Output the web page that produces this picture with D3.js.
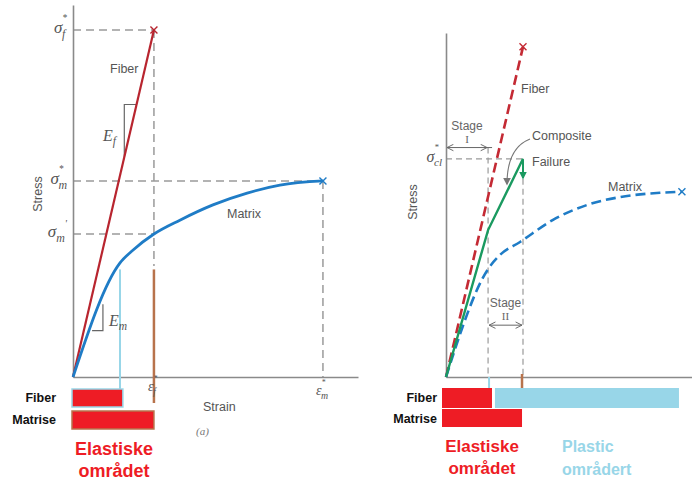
<!DOCTYPE html>
<html><head><meta charset="utf-8">
<script src="https://cdn.jsdelivr.net/npm/d3@7"></script>
<style>body{margin:0;background:#fff}svg{display:block}</style>
</head><body>
<svg id="c" width="692" height="481"></svg>
<script>
// ---- Panel (a): fibre and matrix tested on their own (strain, stress; arbitrary units)
const fiberA  = [[0, 0], [2.84, 100]];
const matrixA = [[0, 0], [1.65, 32.9], [2.11, 36.6], [2.84, 41.2], [3.75, 45.2],
                 [4.91, 49.6], [6.11, 53.0], [7.26, 55.3], [8.77, 56.5]];
const stressMarksA = [{base: "σ", sub: "f", sup: "*", v: 100},
                      {base: "σ", sub: "m", sup: "*", v: 56.5},
                      {base: "σ", sub: "m", sup: "'", v: 41.2}];
const strainMarksA = [{base: "ε", sub: "f", sup: "*", v: 2.84},
                      {base: "ε", sub: "m", sup: "*", v: 8.77}];
const barsA = [{name: "Fiber", end: 1.75}, {name: "Matrise", end: 2.84}];

// ---- Panel (b): fibre, matrix and composite
const fiberB     = [[0, 0], [3.13, 100]];
const compositeB = [[0, 0], [1.71, 44.5], [3.13, 66.1]];
const matrixB    = [[0, 0], [1.71, 32.7], [2.20, 37.0], [3.01, 40.9], [4.35, 47.6],
                    [5.73, 52.1], [7.07, 54.5], [8.70, 55.8], [9.59, 56.1]];
const failureDropB = 60.3;
const stagesB = [{name: "I", from: 0, to: 1.71}, {name: "II", from: 1.71, to: 3.13}];
const barsB = [{name: "Fiber", start: 0, end: 1.87, kind: "elastic"},
               {name: "Fiber", start: 1.99, end: 9.47, kind: "plastic"},
               {name: "Matrise", start: 0, end: 3.09, kind: "elastic"}];

const svg = d3.select("#c");
const C = {
  axis: "#8a8a8a", dash: "#9a9a9a", text: "#555", fiber: "#b8252f", fiberB: "#c42a34",
  matrix: "#1f7cc6", comp: "#1a9a60", bar: "#ee1c25", light: "#98d6e8", brown: "#b8734c"
};
const SANS = "'Liberation Sans', Arial, sans-serif";
const SERIF = "'Liberation Serif', 'Times New Roman', serif";

const defs = svg.append("defs");
defs.append("marker").attr("id", "openArrow").attr("viewBox", "0 0 10 10")
  .attr("refX", 9).attr("refY", 5).attr("markerWidth", 8).attr("markerHeight", 8)
  .attr("markerUnits", "userSpaceOnUse").attr("orient", "auto-start-reverse")
  .append("path").attr("d", "M1,1 L9,5 L1,9").attr("fill", "none").attr("stroke", "#666").attr("stroke-width", 1.2);
defs.append("marker").attr("id", "greenArrow").attr("viewBox", "0 0 10 10")
  .attr("refX", 8).attr("refY", 5).attr("markerWidth", 8).attr("markerHeight", 8)
  .attr("markerUnits", "userSpaceOnUse").attr("orient", "auto")
  .append("path").attr("d", "M0,0 L10,5 L0,10 Z").attr("fill", C.comp);
defs.append("marker").attr("id", "grayArrow").attr("viewBox", "0 0 10 10")
  .attr("refX", 8).attr("refY", 5).attr("markerWidth", 8).attr("markerHeight", 8)
  .attr("markerUnits", "userSpaceOnUse").attr("orient", "auto")
  .append("path").attr("d", "M0,0 L10,5 L0,10 Z").attr("fill", "#777");

// symbol with a subscript and an optional superscript (star stacked above, prime after)
function mathLabel(g, x, y, m, size, anchor) {
  const t = g.append("text").attr("x", x).attr("y", y).attr("text-anchor", anchor || "start")
    .attr("font-family", SERIF).attr("font-style", "italic").attr("font-size", size).attr("fill", C.text);
  t.append("tspan").text(m.base);
  if (m.sup === "*") {
    t.append("tspan").attr("font-size", size * 0.55).attr("dy", -size * 0.72).text(m.sup);
    t.append("tspan").attr("font-size", size * 0.7).attr("dx", -size * 0.3).attr("dy", size * 1.0).text(m.sub);
  } else if (m.sup) {
    t.append("tspan").attr("font-size", size * 0.7).attr("dy", size * 0.28).text(m.sub);
    t.append("tspan").attr("font-size", size * 0.6).attr("dy", -size * 0.85).text(m.sup);
  } else {
    t.append("tspan").attr("font-size", size * 0.72).attr("dy", size * 0.22).text(m.sub);
  }
  return t;
}
function cross(g, x, y, color) {
  g.append("path").attr("d", `M${x-3.5},${y-3.5}L${x+3.5},${y+3.5}M${x-3.5},${y+3.5}L${x+3.5},${y-3.5}`)
    .attr("stroke", color).attr("stroke-width", 1.4);
}
function plainText(g, x, y, s, size, anchor, color) {
  return g.append("text").attr("x", x).attr("y", y).attr("text-anchor", anchor || "start")
    .attr("font-family", SANS).attr("font-size", size).attr("fill", color || C.text).text(s);
}
function styleAxis(sel) {
  sel.select(".domain").attr("stroke", C.axis).attr("stroke-width", 1.6);
}

// ================= Panel (a) =================
const xA = d3.scaleLinear().domain([0, 10]).range([73, 358]);
const yA = d3.scaleLinear().domain([0, 107.2]).range([377, 5]);
const gA = svg.append("g");
const lineA = d3.line().x(d => xA(d[0])).y(d => yA(d[1]));

// dashed guide lines
const fEndA = fiberA[1], mEndA = matrixA[matrixA.length - 1];
const guidesA = [
  [[0, fEndA[1]], [fEndA[0], fEndA[1]]],
  [[fEndA[0], fEndA[1]], [fEndA[0], 32]],
  [[0, mEndA[1]], [mEndA[0], mEndA[1]]],
  [[mEndA[0], mEndA[1]], [mEndA[0], 0]],
  [[0, stressMarksA[2].v], [strainMarksA[0].v, stressMarksA[2].v]]
];
guidesA.forEach(p => gA.append("path").attr("d", lineA(p)).attr("fill", "none")
  .attr("stroke", C.dash).attr("stroke-width", 1.5).attr("stroke-dasharray", "8,5"));

gA.append("g").attr("transform", `translate(${xA(0)},0)`)
  .call(d3.axisLeft(yA).tickValues([]).tickSizeOuter(0)).call(styleAxis);
gA.append("g").attr("transform", `translate(0,${yA(0)})`)
  .call(d3.axisBottom(xA).tickValues([]).tickSizeOuter(0)).call(styleAxis);

// markers below the curves
gA.append("line").attr("x1", xA(matrixA[1][0])).attr("x2", xA(matrixA[1][0]))
  .attr("y1", yA(31)).attr("y2", 389).attr("stroke", C.light).attr("stroke-width", 2);
gA.append("line").attr("x1", xA(fEndA[0])).attr("x2", xA(fEndA[0]))
  .attr("y1", yA(31)).attr("y2", 403).attr("stroke", C.brown).attr("stroke-width", 2.5);

// slope triangles
const fSlope = fiberA[1][1] / fiberA[1][0];
const eF1 = 1.8, eF2 = 2.23;
gA.append("path").attr("d", lineA([[eF1, fSlope * eF1], [eF1, fSlope * eF2], [eF2, fSlope * eF2]]))
  .attr("fill", "none").attr("stroke", "#666").attr("stroke-width", 1.2);
const mSlope = matrixA[1][1] / matrixA[1][0];
const eM1 = 0.67, eM2 = 1.05;
gA.append("path").attr("d", lineA([[eM1, mSlope * eM1], [eM2, mSlope * eM1], [eM2, mSlope * eM2]]))
  .attr("fill", "none").attr("stroke", "#666").attr("stroke-width", 1.2);

// curves
gA.append("path").attr("d", lineA(fiberA)).attr("fill", "none").attr("stroke", C.fiber).attr("stroke-width", 2.2);
gA.append("path").attr("d", lineA.curve(d3.curveMonotoneX)(matrixA)).attr("fill", "none")
  .attr("stroke", C.matrix).attr("stroke-width", 2.8);
lineA.curve(d3.curveLinear);
cross(gA, xA(fEndA[0]), yA(fEndA[1]), C.fiber);
cross(gA, xA(mEndA[0]), yA(mEndA[1]), C.matrix);

// labels
stressMarksA.forEach(m => mathLabel(gA, 67, yA(m.v) + 3, m, 17, "end"));
mathLabel(gA, xA(strainMarksA[0].v) - 6, 391, strainMarksA[0], 14, "start");
mathLabel(gA, xA(strainMarksA[1].v) - 7, 395, strainMarksA[1], 14, "start");
plainText(gA, 110, 73, "Fiber", 12.5);
plainText(gA, 227, 218, "Matrix", 12.5);
plainText(gA, 203, 411, "Strain", 12.5);
gA.append("text").attr("x", 196).attr("y", 435).attr("font-family", SERIF).attr("font-style", "italic")
  .attr("font-size", 11).attr("fill", "#777").text("(a)");
plainText(gA, 0, 0, "Stress", 12.5, "middle").attr("transform", "translate(42,194) rotate(-90)");
mathLabel(gA, 103, 141, {base: "E", sub: "f"}, 16, "start");
mathLabel(gA, 109, 326, {base: "E", sub: "m"}, 16, "start");

// region bars
barsA.forEach((b, i) => {
  const y0 = i === 0 ? 389 : 411;
  gA.append("rect").attr("x", xA(0) - 1).attr("y", y0).attr("width", xA(b.end) - xA(0) + 1).attr("height", 18)
    .attr("fill", C.bar).attr("stroke", i === 0 ? C.light : C.brown).attr("stroke-width", 1.5);
  gA.append("text").attr("x", 56).attr("y", y0 + 13).attr("text-anchor", "end")
    .attr("font-family", SANS).attr("font-weight", "bold").attr("font-size", 12.5).attr("fill", "#111").text(b.name);
});
gA.append("text").attr("text-anchor", "middle").attr("font-family", SANS).attr("font-weight", "bold")
  .attr("font-size", 18).attr("fill", C.bar)
  .selectAll("tspan").data(["Elastiske", "området"]).join("tspan")
  .attr("x", 114).attr("y", (d, i) => 455 + i * 22).text(d => d);

// ================= Panel (b) =================
const xB = d3.scaleLinear().domain([0, 10]).range([446, 692]);
const yB = d3.scaleLinear().domain([0, 104.2]).range([377, 33]);
const gB = svg.append("g");
const lineB = d3.line().x(d => xB(d[0])).y(d => yB(d[1]));

const fail = compositeB[compositeB.length - 1];
const knee = compositeB[1];
const guidesB = [
  [[0, fail[1]], [fail[0], fail[1]]],
  [[fail[0], fail[1]], [fail[0], 0]],
  [[knee[0], 69.5], [knee[0], 0]]
];
guidesB.forEach(p => gB.append("path").attr("d", lineB(p)).attr("fill", "none")
  .attr("stroke", C.dash).attr("stroke-width", 1.2).attr("stroke-dasharray", "6,4"));

gB.append("g").attr("transform", `translate(${xB(0)},0)`)
  .call(d3.axisLeft(yB).tickValues([]).tickSizeOuter(0)).call(styleAxis);
gB.append("g").attr("transform", `translate(0,${yB(0)})`)
  .call(d3.axisBottom(xB).tickValues([]).tickSizeOuter(0)).call(styleAxis);

// stage arrows
const stageY = [yB(69.5), yB(15.7)];
stagesB.forEach((s, i) => {
  gB.append("line").attr("x1", xB(s.from) + 1).attr("x2", xB(s.to) - 1)
    .attr("y1", stageY[i]).attr("y2", stageY[i]).attr("stroke", "#666").attr("stroke-width", 1)
    .attr("marker-start", "url(#openArrow)").attr("marker-end", "url(#openArrow)");
  const cx = (xB(s.from) + xB(s.to)) / 2;
  plainText(gB, cx, stageY[i] - 18, "Stage", 12, "middle", "#666");
  gB.append("text").attr("x", cx).attr("y", stageY[i] - 5).attr("text-anchor", "middle")
    .attr("font-family", SERIF).attr("font-size", 11).attr("fill", "#666").text(s.name);
});
gB.append("line").attr("x1", xB(knee[0]) - 4).attr("x2", xB(knee[0]) + 4)
  .attr("y1", stageY[0]).attr("y2", stageY[0]).attr("stroke", "#666");

// curves
gB.append("path").attr("d", lineB(fiberB)).attr("fill", "none").attr("stroke", C.fiberB)
  .attr("stroke-width", 2.6).attr("stroke-dasharray", "10,5");
gB.append("path").attr("d", lineB.curve(d3.curveMonotoneX)(matrixB)).attr("fill", "none")
  .attr("stroke", C.matrix).attr("stroke-width", 2.6).attr("stroke-dasharray", "10,5");
lineB.curve(d3.curveLinear);
gB.append("path").attr("d", lineB(compositeB)).attr("fill", "none").attr("stroke", C.comp).attr("stroke-width", 2.4);
gB.append("line").attr("x1", xB(fail[0])).attr("x2", xB(fail[0]))
  .attr("y1", yB(fail[1]) + 1).attr("y2", yB(failureDropB)).attr("stroke", C.comp).attr("stroke-width", 2)
  .attr("marker-end", "url(#greenArrow)");
cross(gB, xB(fiberB[1][0]), yB(fiberB[1][1]), C.fiberB);
const mEndB = matrixB[matrixB.length - 1];
cross(gB, xB(mEndB[0]), yB(mEndB[1]), C.matrix);

// leader from "Composite" to the composite curve
gB.append("path").attr("d", "M530,139 Q507,148 507,184").attr("fill", "none")
  .attr("stroke", "#777").attr("stroke-width", 1.1).attr("marker-end", "url(#grayArrow)");

// labels
mathLabel(gB, 442, yB(fail[1]) + 3, {base: "σ", sub: "cl", sup: "*"}, 16, "end");
plainText(gB, 521, 93, "Fiber", 12.5);
plainText(gB, 532, 140, "Composite", 12.5);
plainText(gB, 532, 166, "Failure", 12.5);
plainText(gB, 608, 191, "Matrix", 12.5);
plainText(gB, 0, 0, "Stress", 12.5, "middle").attr("transform", "translate(417,202) rotate(-90)");

// markers under the axis
gB.append("line").attr("x1", xB(1.75)).attr("x2", xB(1.75)).attr("y1", yB(0)).attr("y2", 388)
  .attr("stroke", C.light).attr("stroke-width", 2);
gB.append("line").attr("x1", xB(3.09)).attr("x2", xB(3.09)).attr("y1", 374).attr("y2", 408)
  .attr("stroke", C.brown).attr("stroke-width", 2.5);

// region bars
barsB.forEach(b => {
  const y0 = b.name === "Fiber" ? 388 : 409;
  const x0 = b.start === 0 ? xB(0) - 4 : xB(b.start);
  gB.append("rect").attr("x", x0).attr("y", y0).attr("width", xB(b.end) - x0).attr("height", b.name === "Fiber" ? 20 : 18)
    .attr("fill", b.kind === "elastic" ? C.bar : C.light);
});
["Fiber", "Matrise"].forEach((n, i) => {
  gB.append("text").attr("x", 437).attr("y", 402 + i * 21).attr("text-anchor", "end")
    .attr("font-family", SANS).attr("font-weight", "bold").attr("font-size", 12.5).attr("fill", "#111").text(n);
});
gB.append("text").attr("text-anchor", "middle").attr("font-family", SANS).attr("font-weight", "bold")
  .attr("font-size", 17).attr("fill", C.bar)
  .selectAll("tspan").data(["Elastiske", "området"]).join("tspan")
  .attr("x", 482).attr("y", (d, i) => 452 + i * 22).text(d => d);
gB.append("text").attr("font-family", SANS).attr("font-weight", "bold")
  .attr("font-size", 16).attr("fill", C.light)
  .selectAll("tspan").data(["Plastic", "områdert"]).join("tspan")
  .attr("x", 562).attr("y", (d, i) => 452 + i * 23).text(d => d);
</script>
</body></html>
